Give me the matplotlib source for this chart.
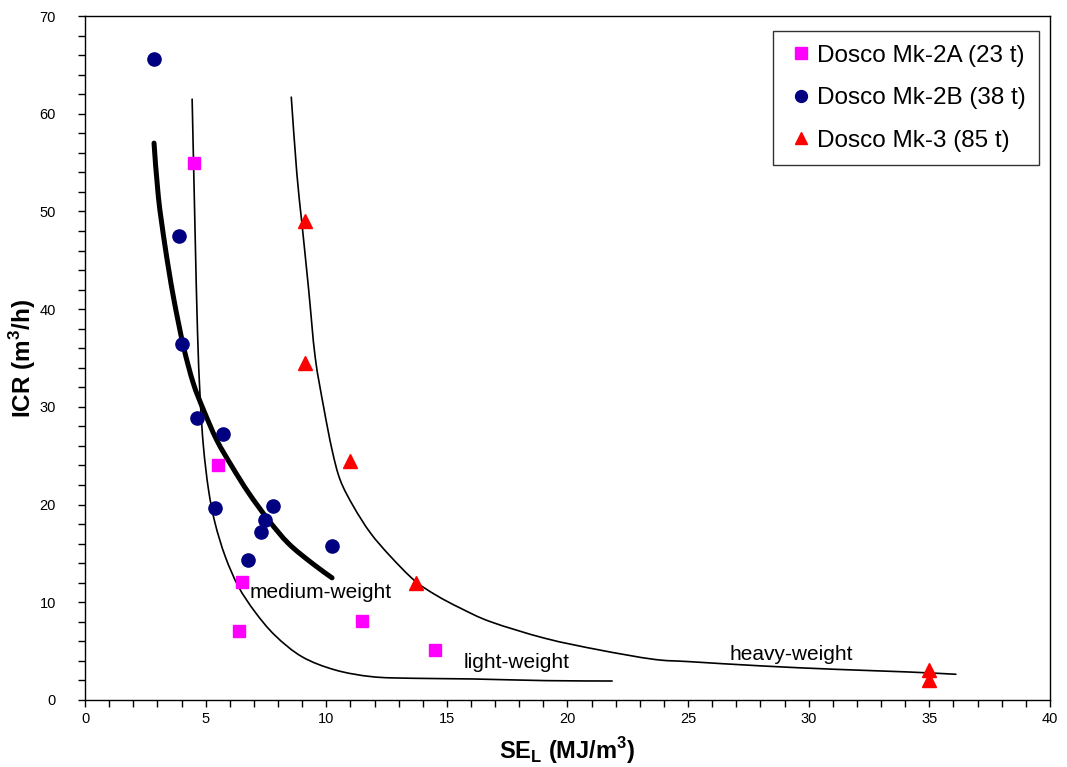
import numpy as np
import matplotlib
matplotlib.use("Agg")
import matplotlib.pyplot as plt
from matplotlib.path import Path
from matplotlib.patches import PathPatch
from matplotlib.ticker import MultipleLocator

plt.rcParams["font.family"] = ["Liberation Sans", "DejaVu Sans"]

# ── Data ──────────────────────────────────────────────────────────────────────
mk2a_x = [4.5, 5.5, 6.5, 6.4, 11.5, 14.5]
mk2a_y = [55.0, 24.0, 12.1, 7.1, 8.1, 5.1]

mk2b_x = [2.85, 3.9, 4.0, 4.65, 5.7, 5.4, 7.8, 7.45, 7.3, 6.75, 10.25]
mk2b_y = [65.6, 47.5, 36.4, 28.9, 27.2, 19.7, 19.9, 18.4, 17.2, 14.3, 15.8]

mk3_x = [9.1, 9.1, 11.0, 13.7, 35.0, 35.0]
mk3_y = [49.0, 34.5, 24.5, 12.0, 3.05, 2.05]

# medium-weight trend (thick)
medium_x = [2.86, 3.04, 3.32, 3.66, 4.08, 4.49, 4.91, 5.46, 6.09, 6.78, 7.61,
            8.44, 9.41, 10.24]
medium_y = [57.0, 51.5, 46.4, 41.3, 36.2, 32.4, 29.7, 26.6, 23.9, 21.2, 18.4,
            16.0, 14.0, 12.5]

# light-weight envelope
light_x = [4.44, 4.56, 4.66, 4.77, 4.91, 5.12, 5.39, 5.81, 6.36, 7.05, 7.88,
           8.99, 10.37, 11.90, 13.56, 16.06, 19.09, 21.85]
light_y = [61.5, 48.1, 37.9, 31.0, 25.9, 21.5, 18.1, 14.7, 11.6, 9.0, 6.6,
           4.43, 3.07, 2.38, 2.22, 2.15, 1.98, 1.94]

# heavy-weight envelope
heavy_x = [8.55, 8.78, 8.99, 9.27, 9.54, 9.89, 10.24, 10.58, 11.13, 11.83,
           12.66, 13.67, 14.57, 15.56, 16.82, 19.07, 21.32, 23.58, 25.07,
           28.08, 31.08, 34.08, 36.1]
heavy_y = [61.7, 53.9, 48.8, 42.0, 35.1, 30.0, 25.6, 22.5, 19.8, 17.1,
           14.7, 12.2, 10.7, 9.4, 8.0, 6.31, 5.12, 4.16, 3.92,
           3.48, 3.14, 2.87, 2.63]


def smooth_path(xs, ys):
    """Catmull-Rom style bezier through the points (like a spreadsheet 'smoothed line')."""
    p = np.column_stack([xs, ys]).astype(float)
    verts, codes = [p[0]], [Path.MOVETO]
    n = len(p)
    for i in range(n - 1):
        p0 = p[i - 1] if i > 0 else p[i]
        p3 = p[i + 2] if i + 2 < n else p[i + 1]
        c1 = p[i] + (p[i + 1] - p0) / 6.0
        c2 = p[i + 1] - (p3 - p[i]) / 6.0
        verts += [c1, c2, p[i + 1]]
        codes += [Path.CURVE4] * 3
    return Path(verts, codes)


# ── Figure ────────────────────────────────────────────────────────────────────
fig = plt.figure(figsize=(10.67, 7.67), dpi=100)
ax = fig.add_axes([0.0797, 0.0874, 0.9043, 0.8916])

for xs, ys, lw in [(light_x, light_y, 1.2), (heavy_x, heavy_y, 1.2),
                   (medium_x, medium_y, 3.6)]:
    ax.add_patch(PathPatch(smooth_path(xs, ys), facecolor="none",
                           edgecolor="black", lw=lw, capstyle="round",
                           joinstyle="round", zorder=2))

ax.plot(mk2a_x, mk2a_y, ls="none", marker="s", ms=9, color="#FF00FF",
        label="Dosco Mk-2A (23 t)", zorder=3)
ax.plot(mk2b_x, mk2b_y, ls="none", marker="o", ms=9.5, color="#000080",
        label="Dosco Mk-2B (38 t)", zorder=3)
ax.plot(mk3_x, mk3_y, ls="none", marker="^", ms=9.5, color="#FF0000",
        label="Dosco Mk-3 (85 t)", zorder=3)

ax.text(6.8, 11.0, "medium-weight", fontsize=15, va="center", ha="left")
ax.text(15.7, 3.8, "light-weight", fontsize=15, va="center", ha="left")
ax.text(26.7, 4.7, "heavy-weight", fontsize=15, va="center", ha="left")

ax.set_xlim(0, 40)
ax.set_ylim(0, 70)
ax.xaxis.set_major_locator(MultipleLocator(5))
ax.xaxis.set_minor_locator(MultipleLocator(1))
ax.yaxis.set_major_locator(MultipleLocator(10))
ax.yaxis.set_minor_locator(MultipleLocator(2))
ax.tick_params(which="both", direction="out", length=5, width=1, labelsize=10.5)
ax.tick_params(axis="x", which="major", pad=4)
ax.tick_params(axis="y", which="major", pad=16)
for s in ax.spines.values():
    s.set_linewidth(1.0)

ax.set_xlabel(r"SE$_\mathregular{L}$ (MJ/m$^\mathregular{3}$)", fontsize=17,
              fontweight="bold", labelpad=6)
ax.set_ylabel(r"ICR (m$^\mathregular{3}$/h)", fontsize=17.5, fontweight="bold",
              labelpad=1)

leg = ax.legend(loc="upper right", bbox_to_anchor=(0.9886, 0.978),
                borderaxespad=0, fontsize=17.5, frameon=True, fancybox=False,
                edgecolor="black", labelspacing=0.85,
                handlelength=1.2, handletextpad=0.05, borderpad=0.55,
                markerscale=0.9)
leg.get_frame().set_linewidth(1.0)

fig.savefig("out.png", dpi=100)
